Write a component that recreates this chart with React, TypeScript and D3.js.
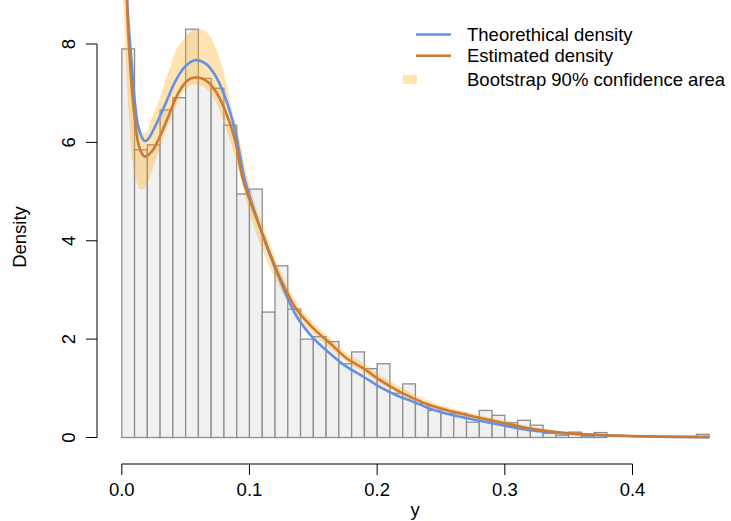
import React from 'react';
import * as d3 from 'd3';

// Histogram (bins of width 0.01 starting at 0)
const binWidth = 0.01;
const binHeights = [
  7.90, 5.85, 5.95, 6.66, 6.91, 8.30, 7.30, 7.10, 6.35, 4.95,
  5.05, 2.55, 3.49, 2.61, 2.00, 2.05, 1.95, 1.50, 1.74, 1.40,
  1.50, 0.90, 1.09, 0.69, 0.55, 0.49, 0.49, 0.31, 0.55, 0.45,
  0.30, 0.35, 0.25, 0.085, 0.045, 0.11, 0.03, 0.10, 0, 0,
  0, 0, 0, 0, 0, 0.065,
];

// Theoretical density (blue)
const theoX = [0.001, 0.003, 0.0051, 0.0078, 0.0103, 0.0129, 0.0156, 0.0176, 0.020, 0.026, 0.0338, 0.0417, 0.0495, 0.0573, 0.0652, 0.073, 0.0808, 0.0887, 0.0965, 0.1108, 0.1239, 0.137, 0.150, 0.163, 0.176, 0.189, 0.202, 0.215, 0.228, 0.241, 0.254, 0.267, 0.280, 0.300, 0.320, 0.340, 0.360, 0.380, 0.400, 0.430, 0.460];
const theoY = [12.5, 9.6, 8.49, 7.6, 6.8, 6.32, 6.11, 6.03, 6.05, 6.32, 6.76, 7.23, 7.54, 7.67, 7.61, 7.37, 6.93, 6.25, 5.23, 4.08, 3.20, 2.46, 2.02, 1.71, 1.44, 1.24, 1.03, 0.86, 0.73, 0.59, 0.49, 0.41, 0.34, 0.24, 0.15, 0.095, 0.06, 0.038, 0.025, 0.013, 0.007];

// Estimated density (orange)
const estX = [0.001, 0.003, 0.0046, 0.0078, 0.0103, 0.0129, 0.0156, 0.018, 0.0234, 0.0286, 0.0364, 0.0442, 0.052, 0.0573, 0.0652, 0.073, 0.0808, 0.0887, 0.095, 0.1108, 0.1239, 0.137, 0.150, 0.163, 0.176, 0.189, 0.202, 0.215, 0.228, 0.241, 0.254, 0.267, 0.280, 0.300, 0.320, 0.340, 0.360, 0.380, 0.400, 0.430, 0.460];
const estY = [12.0, 9.8, 8.49, 7.13, 6.45, 5.98, 5.78, 5.71, 5.81, 6.05, 6.52, 7.0, 7.27, 7.32, 7.27, 7.06, 6.66, 6.05, 5.23, 4.1, 3.25, 2.6, 2.22, 1.92, 1.61, 1.41, 1.17, 0.97, 0.80, 0.66, 0.56, 0.48, 0.40, 0.29, 0.18, 0.11, 0.07, 0.045, 0.03, 0.016, 0.009];

// Bootstrap 90% confidence band
const bandX = [0.0005, 0.002, 0.004, 0.006, 0.008, 0.010, 0.012, 0.014, 0.016, 0.019, 0.022, 0.026, 0.030, 0.034, 0.038, 0.042, 0.046, 0.050, 0.054, 0.058, 0.062, 0.066, 0.070, 0.074, 0.078, 0.082, 0.086, 0.090, 0.094, 0.098, 0.104, 0.111, 0.124, 0.137, 0.150, 0.163, 0.176, 0.189, 0.202, 0.215, 0.228, 0.241, 0.254, 0.267, 0.280, 0.300, 0.320, 0.340, 0.360, 0.380, 0.400, 0.430, 0.460];
const bandLo = [9.5, 8.3, 7.2, 6.3, 5.7, 5.35, 5.15, 5.05, 5.05, 5.12, 5.3, 5.6, 5.91, 6.2, 6.45, 6.7, 6.93, 7.08, 7.16, 7.18, 7.15, 7.1, 6.98, 6.8, 6.55, 6.25, 5.95, 5.6, 5.2, 4.75, 4.25, 3.75, 3.02, 2.45, 2.1, 1.82, 1.53, 1.33, 1.1, 0.91, 0.75, 0.61, 0.52, 0.43, 0.35, 0.25, 0.15, 0.09, 0.055, 0.035, 0.02, 0.008, 0.003];
const bandHi = [13, 11, 9.4, 8.3, 7.4, 6.9, 6.55, 6.3, 6.2, 6.2, 6.39, 6.65, 6.93, 7.25, 7.54, 7.85, 8.02, 8.15, 8.25, 8.3, 8.3, 8.25, 8.12, 7.9, 7.6, 7.2, 6.7, 6.3, 5.85, 5.35, 4.8, 4.28, 3.42, 2.74, 2.34, 2.03, 1.72, 1.52, 1.27, 1.07, 0.89, 0.74, 0.63, 0.54, 0.46, 0.34, 0.22, 0.14, 0.09, 0.058, 0.037, 0.02, 0.012];

const xTicks = [0, 0.1, 0.2, 0.3, 0.4];
const yTicks = [0, 2, 4, 6, 8];
const legendLabels = ['Theorethical density', 'Estimated density', 'Bootstrap 90% confidence area'];

const W = 731;
const H = 521;
const FONT = "'Liberation Sans', Arial, Helvetica, sans-serif";
const FS = 18.5;
const BLUE = '#6292e8';
const ORANGE = '#cc7a35';
const BAND = 'rgba(255,165,0,0.3)';

export default function App() {
  const x = d3.scaleLinear().domain([0, 0.4]).range([121.8, 632.5]);
  const y = d3.scaleLinear().domain([0, 8]).range([437.5, 44]);
  const plotLeft = 97;
  const plotBottom = 464;

  const bars = binHeights.map((h, i) => ({ x0: i * binWidth, x1: (i + 1) * binWidth, h }));

  const area = d3
    .area<number>()
    .x((_, i) => x(bandX[i]))
    .y0((_, i) => y(bandLo[i]))
    .y1((_, i) => y(bandHi[i]))
    .curve(d3.curveCatmullRom.alpha(0.5));

  const line = (xs: number[], ys: number[]) =>
    d3
      .line<number>()
      .x((_, i) => x(xs[i]))
      .y((_, i) => y(ys[i]))
      .curve(d3.curveCatmullRom.alpha(0.5))(ys) as string;

  return (
    <svg
      width={W}
      height={H}
      style={{ position: 'fixed', left: 0, top: 0, background: '#fff' }}
      fontFamily={FONT}
    >
      <defs>
        <clipPath id="plotclip">
          <rect x={plotLeft} y={-8} width={W - plotLeft} height={plotBottom + 8} />
        </clipPath>
      </defs>
      <g clipPath="url(#plotclip)">
        {bars.map((b, i) => (
          <rect
            key={i}
            x={x(b.x0)}
            y={y(b.h)}
            width={x(b.x1) - x(b.x0)}
            height={y(0) - y(b.h)}
            fill="#f1f1f1"
            stroke="#8e8e8e"
            strokeWidth={1.3}
          />
        ))}
        <path d={area(bandX) as string} fill={BAND} stroke="none" />
        <path d={line(theoX, theoY)} fill="none" stroke={BLUE} strokeWidth={2.6} />
        <path d={line(estX, estY)} fill="none" stroke={ORANGE} strokeWidth={2.6} />
      </g>

      {/* Y axis */}
      <line x1={plotLeft} x2={plotLeft} y1={y(0)} y2={y(8)} stroke="#000" strokeWidth={1} />
      {yTicks.map((t) => (
        <g key={t}>
          <line x1={plotLeft - 11} x2={plotLeft} y1={y(t)} y2={y(t)} stroke="#000" strokeWidth={1} />
          <text
            transform={`translate(75,${y(t)}) rotate(-90)`}
            textAnchor="middle"
            fontSize={FS}
            fill="#000"
          >
            {t}
          </text>
        </g>
      ))}
      <text transform={`translate(26,237) rotate(-90)`} textAnchor="middle" fontSize={FS}>
        Density
      </text>

      {/* X axis */}
      <line x1={x(0)} x2={x(0.4)} y1={plotBottom} y2={plotBottom} stroke="#000" strokeWidth={1} />
      {xTicks.map((t) => (
        <g key={t}>
          <line x1={x(t)} x2={x(t)} y1={plotBottom} y2={plotBottom + 11} stroke="#000" strokeWidth={1} />
          <text x={x(t)} y={496} textAnchor="middle" fontSize={FS}>
            {d3.format('.1f')(t)}
          </text>
        </g>
      ))}
      <text x={(plotLeft + 733) / 2} y={516} textAnchor="middle" fontSize={FS}>
        y
      </text>

      {/* Legend */}
      <line x1={416} x2={451} y1={34.5} y2={34.5} stroke={BLUE} strokeWidth={2.6} />
      <line x1={416} x2={451} y1={55.7} y2={55.7} stroke={ORANGE} strokeWidth={2.6} />
      <rect x={403} y={75} width={14} height={9} fill={BAND} />
      {legendLabels.map((l, i) => (
        <text key={l} x={467} y={[41, 62, 86][i]} fontSize={FS}>
          {l}
        </text>
      ))}
    </svg>
  );
}
